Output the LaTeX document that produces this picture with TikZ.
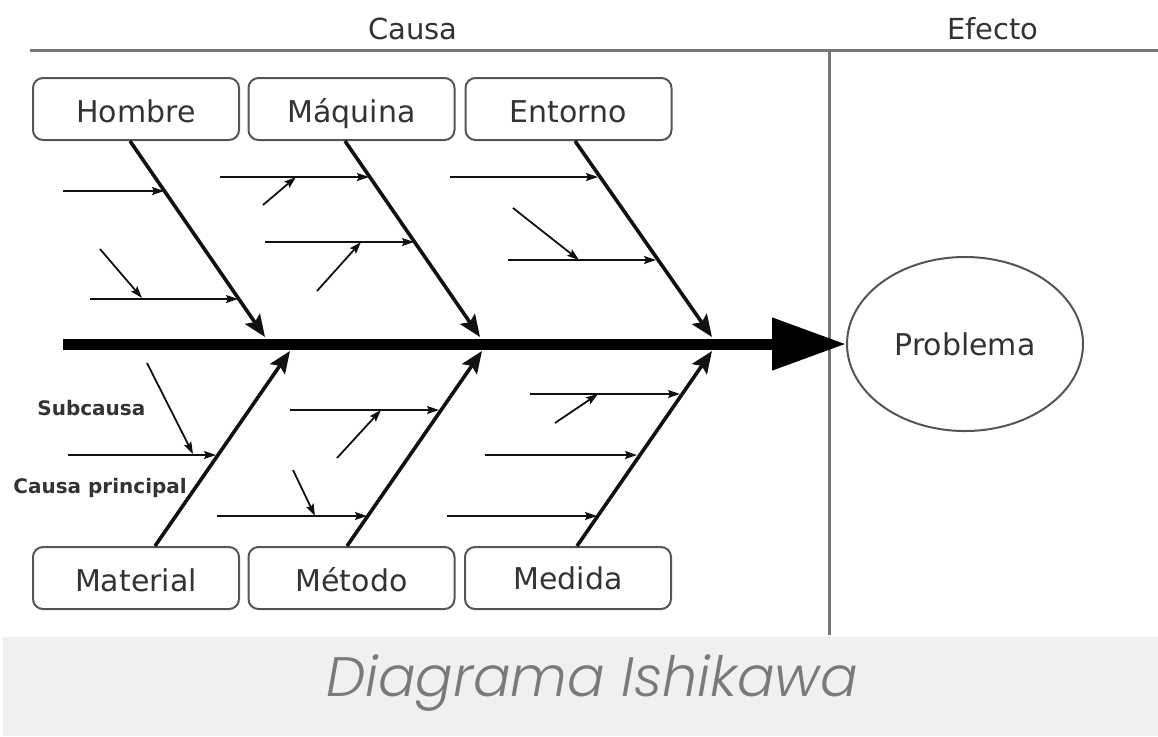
\documentclass[tikz,border=0pt]{standalone}
\usepackage{fontspec}
\setmainfont{DejaVu Sans}
\newfontfamily\titlefont{Poppins Light Italic}
\usetikzlibrary{arrows.meta,shapes.geometric}
\definecolor{txt}{HTML}{333333}
\definecolor{frame}{HTML}{777777}
\definecolor{boxline}{HTML}{555555}
\definecolor{band}{HTML}{F0F0F0}
\definecolor{titlecol}{HTML}{7A7A7A}
\definecolor{ink}{HTML}{111111}
\tikzset{
  box/.style={draw=boxline, line width=1pt, rounded corners=5pt, minimum width=103pt,
    minimum height=31pt, inner sep=0pt, text=txt, text height=14pt, text depth=1pt,
    font=\fontsize{15pt}{18pt}\selectfont},
  head/.style={text=txt, inner sep=0pt, font=\fontsize{14.5pt}{17pt}\selectfont},
  lbl/.style={text=txt, inner sep=0pt, anchor=west, font=\fontsize{10pt}{12pt}\selectfont\bfseries},
  branch/.style={draw=ink, line width=1.8pt, -{Stealth[length=11pt,width=9pt,inset=2pt]}},
  sub/.style={draw=ink, line width=0.9pt, -{Stealth[length=6pt,width=4pt,inset=1pt]}},
  spine/.style={draw=black, line width=5.5pt, -{Triangle[length=37pt,width=25pt]}},
  rule/.style={draw=frame, line width=1.5pt}
}
\begin{document}
\begin{tikzpicture}[x=0.5pt,y=-0.5pt]
\useasboundingbox (0,0) rectangle (1158,736);
% bottom band with title
\fill[band] (3,637) rectangle (1158,736);
\node[text=titlecol, inner sep=0pt, font=\titlefont\fontsize{27.8pt}{32pt}\selectfont] (title) at (592,683) {Diagrama Ishikawa};
% headings and frame
\node[head] (causa) at (413,29) {Causa};
\node[head] (efecto) at (993,29) {Efecto};
\coordinate (tl) at (30,50);
\coordinate (tr) at (1158,50);
\coordinate (vt) at (829,51);
\coordinate (vb) at (829,635);
\draw[rule] (tl) -- (tr);
\draw[rule] (vt) -- (vb);
% boxes
\node[box] (hombre) at (136,109) {Hombre};
\node[box] (maquina) at (351.5,109) {Máquina};
\node[box] (entorno) at (568.5,109) {Entorno};
\node[box] (material) at (136,578) {Material};
\node[box] (metodo) at (351.5,578) {Método};
\node[box, text depth=2.5pt] (medida) at (568,578) {Medida};
% effect
\node[draw=boxline, line width=1pt, ellipse, minimum width=118pt, minimum height=87pt, inner sep=0pt,
  text=txt, font=\fontsize{15pt}{18pt}\selectfont] (problema) at (965,344) {Problema};
% spine
\coordinate (spineL) at (63,344);
\draw[spine] (spineL) -- (problema.west);
% branch tips on spine
\coordinate (hT) at (265,337);
\coordinate (mT) at (480,337);
\coordinate (eT) at (712,337);
\coordinate (aT) at (290,351);
\coordinate (tT) at (482,351);
\coordinate (dT) at (712,351);
\draw[branch] ([xshift=-3pt]hombre.south) -- (hT);
\draw[branch] ([xshift=-3.25pt]maquina.south) -- (mT);
\draw[branch] ([xshift=3.25pt]entorno.south) -- (eT);
\draw[branch] ([xshift=9.5pt]material.north) -- (aT);
\draw[branch] ([xshift=-2.25pt]metodo.north) -- (tT);
\draw[branch] ([xshift=4.5pt]medida.north) -- (dT);
% sub causes: Hombre
\path (63,191) coordinate (h1a) (164,191) coordinate (h1b)
      (90,299) coordinate (h2a) (238,299) coordinate (h2b)
      (100,249) coordinate (h3a) (142,298) coordinate (h3b);
\draw[sub] (h1a) -- (h1b);
\draw[sub] (h2a) -- (h2b);
\draw[sub] (h3a) -- (h3b);
% Maquina
\path (220,177) coordinate (m1a) (369,177) coordinate (m1b)
      (263,205) coordinate (m2a) (296,177) coordinate (m2b)
      (265,242) coordinate (m3a) (414,242) coordinate (m3b)
      (317,291) coordinate (m4a) (361,242) coordinate (m4b);
\draw[sub] (m1a) -- (m1b);
\draw[sub] (m2a) -- (m2b);
\draw[sub] (m3a) -- (m3b);
\draw[sub] (m4a) -- (m4b);
% Entorno
\path (450,177) coordinate (e1a) (598,177) coordinate (e1b)
      (508,260) coordinate (e2a) (656,260) coordinate (e2b)
      (513,208) coordinate (e3a) (579,260) coordinate (e3b);
\draw[sub] (e1a) -- (e1b);
\draw[sub] (e2a) -- (e2b);
\draw[sub] (e3a) -- (e3b);
% Material
\path (68,455) coordinate (a1a) (216,455) coordinate (a1b)
      (147,363) coordinate (a2a) (193,454) coordinate (a2b);
\draw[sub] (a1a) -- (a1b);
\draw[sub] (a2a) -- (a2b);
% Metodo
\path (290,410) coordinate (t1a) (439,410) coordinate (t1b)
      (337,458) coordinate (t2a) (381,410) coordinate (t2b)
      (217,516) coordinate (t3a) (367,516) coordinate (t3b)
      (293,470) coordinate (t4a) (315,516) coordinate (t4b);
\draw[sub] (t1a) -- (t1b);
\draw[sub] (t2a) -- (t2b);
\draw[sub] (t3a) -- (t3b);
\draw[sub] (t4a) -- (t4b);
% Medida
\path (530,394) coordinate (d1a) (680,394) coordinate (d1b)
      (555,423) coordinate (d2a) (598,394) coordinate (d2b)
      (485,455) coordinate (d3a) (637,455) coordinate (d3b)
      (447,516) coordinate (d4a) (597,516) coordinate (d4b);
\draw[sub] (d1a) -- (d1b);
\draw[sub] (d2a) -- (d2b);
\draw[sub] (d3a) -- (d3b);
\draw[sub] (d4a) -- (d4b);
% legend labels
\node[lbl] (subcausa) at (37,408) {Subcausa};
\node[lbl] (causaprincipal) at (13,488) {Causa principal};
\end{tikzpicture}
\end{document}
